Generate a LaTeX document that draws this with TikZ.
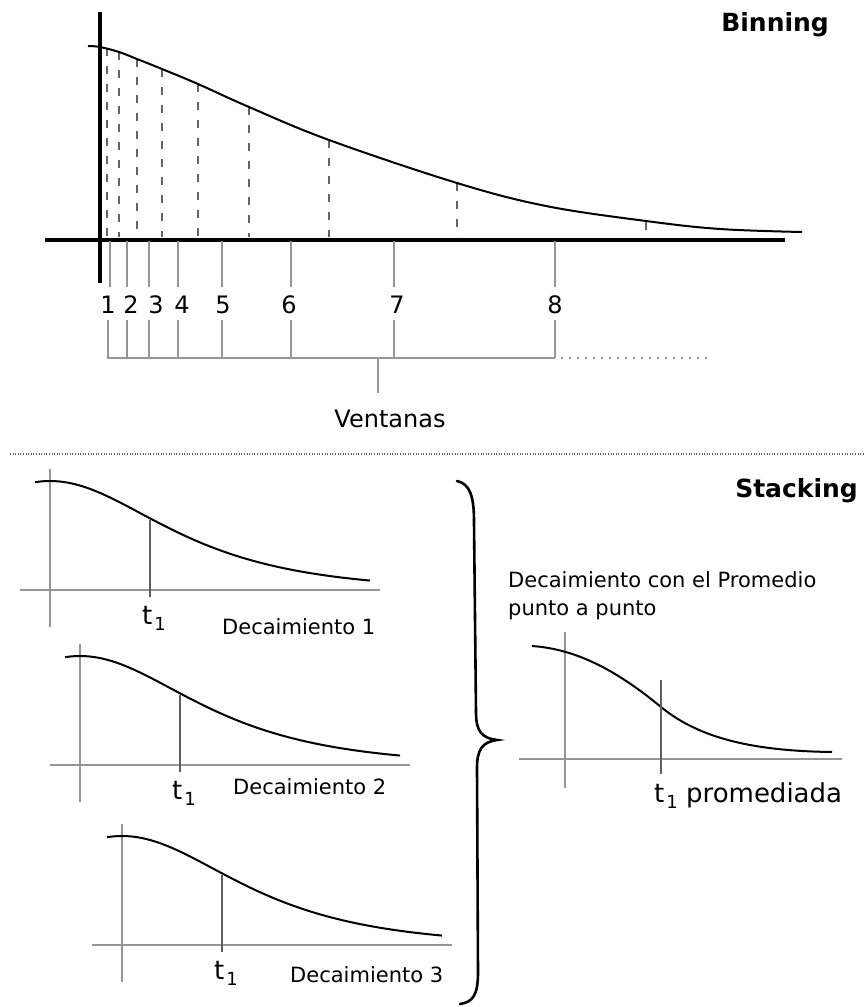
\documentclass[tikz,border=0pt]{standalone}
\usepackage{fontspec}
\setmainfont{DejaVu Sans}
\definecolor{lgray}{RGB}{150,150,150}
\definecolor{dgray}{RGB}{95,95,95}
\definecolor{sgray}{RGB}{100,100,100}
\newcommand{\tone}{t\kern2pt\raisebox{-6pt}{\fontsize{18}{18}\selectfont 1}}
\tikzset{
  mainaxis/.style={line width=3.5pt, black},
  curvel/.style={line width=2pt, black},
  dashgray/.style={line width=2.6pt, sgray, dash pattern=on 8pt off 10pt},
  wingray/.style={line width=2.2pt, lgray},
  plotaxis/.style={line width=2.2pt, lgray},
  tline/.style={line width=2.4pt, dgray},
  sepdot/.style={line width=1.4pt, sgray, dash pattern=on 1pt off 1.6pt},
  winddot/.style={line width=1.6pt, lgray, dash pattern=on 1.6pt off 6.4pt},
  numlab/.style={anchor=base, inner sep=0pt, font=\fontsize{24}{24}\selectfont},
  declab/.style={anchor=base west, inner sep=0pt, font=\fontsize{21}{21}\selectfont},
  tlab/.style={anchor=base west, inner sep=0pt, font=\fontsize{26}{26}\selectfont},
  titlelab/.style={anchor=base east, inner sep=0pt, font=\fontsize{25}{25}\selectfont\bfseries},
  bracel/.style={line width=2.6pt, black, line cap=round}
}
\begin{document}
\begin{tikzpicture}[x=1pt,y=-1pt]
\useasboundingbox (0,0) rectangle (864,1007);

% ---------------- Binning ----------------
\node[titlelab] (binning) at (829,31) {Binning};
\draw[mainaxis] (100,12) -- (100,283);
\draw[mainaxis] (45,240) -- (785,240);
\foreach \xx/\yy in {107/48,119/52,137/59,162/69,198/84,249/107,329/140,457/183,646/222}{
  \draw[dashgray] (\xx,\yy) -- (\xx,237);
}
\draw[curvel] plot[smooth, tension=0.6] coordinates {(88,46) (100,47) (119,52) (137,59) (162,69) (198,84) (249,107) (329,140) (457,183) (546,206) (646,221) (720,229) (802,232)};

% windows
\foreach \xx in {127,149,178,222,291,394,555}{
  \draw[wingray] (\xx,241) -- (\xx,287);
  \draw[wingray] (\xx,320) -- (\xx,358);
}
\draw[wingray] (110,241) -- (110,287);
\coordinate (wl) at (108,358);
\coordinate (wr) at (555,358);
\coordinate (wend) at (710,358);
\draw[wingray] (108,320) -- (wl) -- (wr);
\draw[winddot] (561,358) -- (wend);
\coordinate (stemtop) at (378,358);
\coordinate (stembot) at (378,393);
\draw[wingray] (stemtop) -- (stembot);

\foreach \xx/\lab in {108/1,131/2,156/3,182/4,223/5,289/6,397/7,555/8}{
  \node[numlab] (n\lab) at (\xx,313) {\lab};
}
\node[numlab] (ventanas) at (390,427) {Ventanas};

% separator
\draw[sepdot] (10,454) -- (864,454);

% ---------------- Stacking ----------------
\node[titlelab] (stacking) at (858,497) {Stacking};

\foreach \ox/\oy [count=\i] in {50/590,80/765,122/945}{
  \begin{scope}[shift={(\ox,\oy)}]
    \draw[plotaxis] (-30,0) -- (330,0);
    \draw[plotaxis] (0,-121) -- (0,37);
    \draw[curvel] plot[domain=-15:320, samples=100] (\x, {-109/cosh(\x/102)});
    \draw[tline] (100,-70) -- (100,7);
    \node[tlab] (t\i) at (92,34) {\tone};
  \end{scope}
}
\node[declab] (d1) at (222,634) {Decaimiento 1};
\node[declab] (d2) at (233,794) {Decaimiento 2};
\node[declab] (d3) at (290,982) {Decaimiento 3};

% brace
\draw[bracel] (457,481) .. controls (470,484) and (474,496) .. (474,522)
  -- (476,712) .. controls (476,732) and (482,738) .. (497,740)
  .. controls (482,742) and (477,750) .. (477,768)
  -- (478,972) .. controls (478,995) and (473,1002) .. (460,1004);

% averaged decay
\node[declab] (avg1) at (508,587) {Decaimiento con el Promedio};
\node[declab] (avg2) at (508,615) {punto a punto};
\begin{scope}[shift={(565,759)}]
  \draw[plotaxis] (-46,0) -- (277,0);
  \draw[plotaxis] (0,-127) -- (0,29);
  \draw[curvel] (-33,-113) .. controls (10,-110) and (50,-90) .. (96,-52)
    .. controls (135,-20) and (190,-8) .. (267,-7);
  \draw[tline] (96,-79) -- (96,15);
  \node[tlab] (tavg) at (89,43) {\tone\ promediada};
\end{scope}
\end{tikzpicture}
\end{document}
